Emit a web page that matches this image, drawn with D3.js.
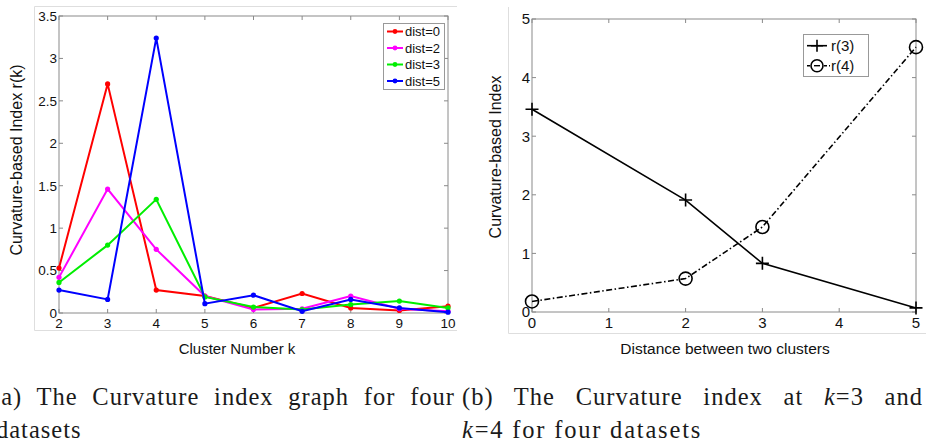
<!DOCTYPE html>
<html>
<head>
<meta charset="utf-8">
<script src="https://cdn.jsdelivr.net/npm/d3@7"></script>
<style>
	body { margin: 0; background: #fff; }
	svg { display: block; }
	text { font-family: "Liberation Sans", Arial, sans-serif; fill: #111; }
	text.cap { font-family: "Liberation Serif", "Times New Roman", serif; fill: #1a1a1a; letter-spacing: 1px; }
</style>
</head>
<body>
<svg id="fig" width="926" height="444"></svg>
<script>
// left chart: curvature index by cluster number
var kValues = [2, 3, 4, 5, 6, 7, 8, 9, 10];
var dist0 = [0.53, 2.70, 0.27, 0.20, 0.06, 0.23, 0.06, 0.03, 0.08];
var dist2 = [0.42, 1.46, 0.75, 0.20, 0.04, 0.05, 0.20, 0.05, 0.02];
var dist3 = [0.36, 0.80, 1.34, 0.19, 0.07, 0.04, 0.10, 0.14, 0.06];
var dist5 = [0.27, 0.16, 3.24, 0.11, 0.21, 0.02, 0.16, 0.06, 0.01];
var leftNames = ["dist=0", "dist=2", "dist=3", "dist=5"];
var leftTicksY = [0, 0.5, 1, 1.5, 2, 2.5, 3, 3.5];

// right chart: index at k=3 and k=4 vs distance
var distances = [0, 2, 3, 5];
var r3 = [3.46, 1.91, 0.83, 0.07];
var r4 = [0.18, 0.57, 1.45, 4.52];
var rightNames = ["r(3)", "r(4)"];
var rightTicksX = [0, 1, 2, 3, 4, 5];
var rightTicksY = [0, 1, 2, 3, 4, 5];

var svg = d3.select("#fig");
var axisColor = "#8a8a8a";
var frameColor = "#dedede";

// light frames of the two figure panels
svg.append("path")
	.attr("d", "M457,6.5H34.5V330.5H457")
	.attr("fill", "none").attr("stroke", frameColor);
svg.append("path")
	.attr("d", "M508.5,7V333.5H926")
	.attr("fill", "none").attr("stroke", frameColor);

function drawBox(g, x, y, xTicks, yTicks, fontSize, fmtY) {
	var x0 = x.range()[0], x1 = x.range()[1];
	var y0 = y.range()[0], y1 = y.range()[1];
	g.append("rect")
		.attr("x", x0).attr("y", y1)
		.attr("width", x1 - x0).attr("height", y0 - y1)
		.attr("fill", "none").attr("stroke", axisColor).attr("stroke-width", 1);

	xTicks.forEach(function(t) {
		g.append("line").attr("x1", x(t)).attr("x2", x(t)).attr("y1", y0).attr("y2", y0 - 4)
			.attr("stroke", axisColor);
		g.append("line").attr("x1", x(t)).attr("x2", x(t)).attr("y1", y1).attr("y2", y1 + 4)
			.attr("stroke", axisColor);
		g.append("text").attr("x", x(t)).attr("y", y0 + fontSize + 1)
			.attr("text-anchor", "middle").style("font-size", fontSize + "px").text(t);
	});
	yTicks.forEach(function(t) {
		g.append("line").attr("x1", x0).attr("x2", x0 + 4).attr("y1", y(t)).attr("y2", y(t))
			.attr("stroke", axisColor);
		g.append("line").attr("x1", x1).attr("x2", x1 - 4).attr("y1", y(t)).attr("y2", y(t))
			.attr("stroke", axisColor);
		g.append("text").attr("x", x0 - 2).attr("y", y(t)).attr("dy", "0.36em")
			.attr("text-anchor", "end").style("font-size", fontSize + "px").text(fmtY(t));
	});
}

// ---------- left chart ----------
var xL = d3.scaleLinear().domain([2, 10]).range([59, 448]);
var yL = d3.scaleLinear().domain([0, 3.5]).range([313, 16]);
var gL = svg.append("g");
drawBox(gL, xL, yL, kValues, leftTicksY, 13.5, function(d) { return d; });

var leftSeries = [dist0, dist2, dist3, dist5];
var leftColors = ["#ff0000", "#ff00ff", "#00ee00", "#0000ff"];
var lineL = d3.line()
	.x(function(d, i) { return xL(kValues[i]); })
	.y(function(d) { return yL(d); });

leftSeries.forEach(function(s, j) {
	gL.append("path").datum(s)
		.attr("d", lineL)
		.attr("fill", "none")
		.attr("stroke", leftColors[j])
		.attr("stroke-width", 2);
	gL.selectAll(".dot" + j).data(s).enter().append("circle")
		.attr("cx", function(d, i) { return xL(kValues[i]); })
		.attr("cy", function(d) { return yL(d); })
		.attr("r", 2.6)
		.attr("fill", leftColors[j]);
});

// legend left
var legL = gL.append("g");
legL.append("rect").attr("x", 383.5).attr("y", 23.5).attr("width", 61).attr("height", 66)
	.attr("fill", "#fff").attr("stroke", "#999");
leftNames.forEach(function(n, j) {
	var ly = 31.5 + j * 16.5;
	legL.append("line").attr("x1", 387).attr("x2", 403).attr("y1", ly).attr("y2", ly)
		.attr("stroke", leftColors[j]).attr("stroke-width", 2);
	legL.append("circle").attr("cx", 395).attr("cy", ly).attr("r", 2.4).attr("fill", leftColors[j]);
	legL.append("text").attr("x", 405).attr("y", ly).attr("dy", "0.36em")
		.style("font-size", "13px").text(n);
});

gL.append("text")
	.attr("transform", "translate(22,160) rotate(-90)")
	.attr("text-anchor", "middle")
	.style("font-size", "16px")
	.text("Curvature-based Index r(k)");
gL.append("text")
	.attr("x", 237).attr("y", 354)
	.attr("text-anchor", "middle")
	.style("font-size", "15px")
	.text("Cluster Number k");

// ---------- right chart ----------
var xR = d3.scaleLinear().domain([0, 5]).range([532, 916]);
var yR = d3.scaleLinear().domain([0, 5]).range([312, 19]);
var gR = svg.append("g");
drawBox(gR, xR, yR, rightTicksX, rightTicksY, 15, function(d) { return d; });

var lineR = d3.line()
	.x(function(d, i) { return xR(distances[i]); })
	.y(function(d) { return yR(d); });

gR.append("path").datum(r3)
	.attr("d", lineR).attr("fill", "none")
	.attr("stroke", "#000").attr("stroke-width", 1.6);
gR.append("path").datum(r4)
	.attr("d", lineR).attr("fill", "none")
	.attr("stroke", "#000").attr("stroke-width", 1.6)
	.attr("stroke-dasharray", "6,2.5,1.5,2.5");

function plus(g, cx, cy, s) {
	g.append("path")
		.attr("d", "M" + (cx - s) + "," + cy + "H" + (cx + s) + "M" + cx + "," + (cy - s) + "V" + (cy + s))
		.attr("stroke", "#000").attr("stroke-width", 1.6).attr("fill", "none");
}

r3.forEach(function(d, i) { plus(gR, xR(distances[i]), yR(d), 6.5); });
gR.selectAll(".ring").data(r4).enter().append("circle")
	.attr("cx", function(d, i) { return xR(distances[i]); })
	.attr("cy", function(d) { return yR(d); })
	.attr("r", 6.5)
	.attr("fill", "none").attr("stroke", "#000").attr("stroke-width", 1.6);

// legend right
var legR = gR.append("g");
legR.append("rect").attr("x", 803.5).attr("y", 34.5).attr("width", 65).attr("height", 42)
	.attr("fill", "#fff").attr("stroke", "#999");
legR.append("line").attr("x1", 807).attr("x2", 827).attr("y1", 45.7).attr("y2", 45.7)
	.attr("stroke", "#000").attr("stroke-width", 1.6);
plus(legR, 817, 45.7, 6);
legR.append("line").attr("x1", 807).attr("x2", 830).attr("y1", 65.7).attr("y2", 65.7)
	.attr("stroke", "#000").attr("stroke-width", 1.6).attr("stroke-dasharray", "3,2,1.5,2");
legR.append("circle").attr("cx", 817).attr("cy", 65.7).attr("r", 6)
	.attr("fill", "#fff").attr("stroke", "#000").attr("stroke-width", 1.6);
legR.append("line").attr("x1", 814).attr("x2", 820).attr("y1", 65.7).attr("y2", 65.7)
	.attr("stroke", "#000").attr("stroke-width", 1.4);
rightNames.forEach(function(n, j) {
	legR.append("text").attr("x", 831).attr("y", 45.7 + j * 20).attr("dy", "0.36em")
		.style("font-size", "15px").text(n);
});

gR.append("text")
	.attr("transform", "translate(501,157) rotate(-90)")
	.attr("text-anchor", "middle")
	.style("font-size", "16px")
	.text("Curvature-based Index");
gR.append("text")
	.attr("x", 725).attr("y", 354)
	.attr("text-anchor", "middle")
	.style("font-size", "15.5px")
	.text("Distance between two clusters");

// ---------- captions ----------
// widen the gaps between words until the line reaches its width
function justify(t, width) {
	var len = t.node().getComputedTextLength();
	var gaps = t.text().split(" ").length - 1;
	if (gaps > 0 && width > len) t.style("word-spacing", ((width - len) / gaps) + "px");
}

var capSize = "24.5px";
var a1 = svg.append("text").attr("class", "cap").attr("x", -8).attr("y", 405)
	.style("font-size", capSize)
	.text("(a) The Curvature index graph for four");
justify(a1, 463);
svg.append("text").attr("class", "cap").attr("x", -4).attr("y", 438)
	.style("font-size", capSize)
	.text("datasets");

var b1 = svg.append("text").attr("class", "cap").attr("x", 462).attr("y", 405)
	.style("font-size", capSize);
b1.append("tspan").text("(b) The Curvature index at ");
b1.append("tspan").style("font-style", "italic").text("k");
b1.append("tspan").text("=3 and");
justify(b1, 461);

var b2 = svg.append("text").attr("class", "cap").attr("x", 462).attr("y", 438)
	.style("font-size", capSize).style("letter-spacing", "1.8px");
b2.append("tspan").style("font-style", "italic").text("k");
b2.append("tspan").text("=4 for four datasets");
</script>
</body>
</html>
